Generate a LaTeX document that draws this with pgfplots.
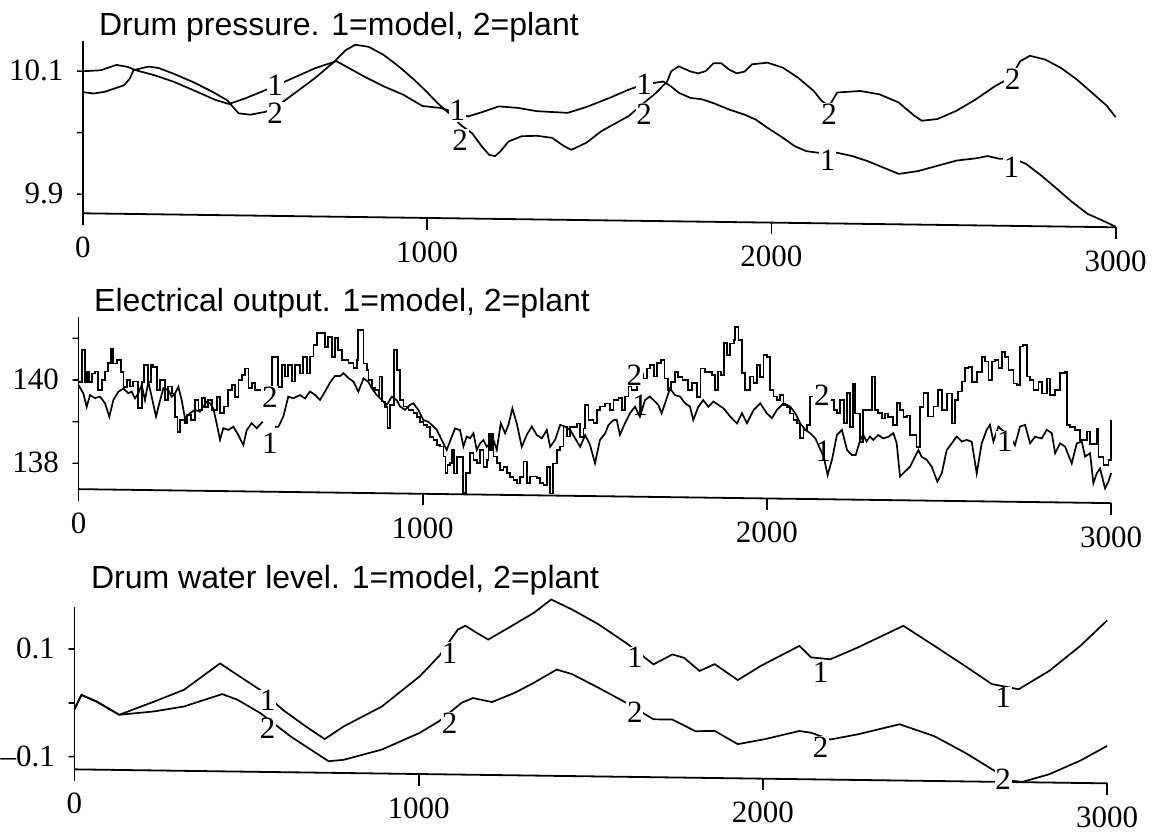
\documentclass[border=0pt]{standalone}
\usepackage{pgfplots}
\pgfplotsset{compat=1.18}
\usepackage{fontspec}
\setmainfont{Liberation Serif}
\newfontfamily\titlefont{Liberation Sans}

\pgfplotsset{
  trendaxis/.style={
    x={(0.1721pt,-0.00233pt)},
    xmin=0, xmax=3000,
    axis x line*=bottom, axis y line*=left,
    axis line style={line width=0.9pt, black},
    tick align=outside,
    xtick={0,1000,2000,3000},
    xticklabels={0,1000,2000,3000},
    xtick style={line width=0.9pt, black, /pgfplots/major tick length=5.8pt},
    ytick style={line width=0.7pt, black, /pgfplots/major tick length=3pt},
    ticklabel style={font=\fontsize{15.5}{18}\selectfont},
    xticklabel style={yshift=-4pt},
    yticklabel style={xshift=-2pt},
    clip=false,
    anchor=north west,
  },
}
\tikzset{
  curve/.style={line width=0.85pt, black},
  tickline/.style={line width=0.9pt, black},
  cl/.style={font=\fontsize{15.5}{18}\selectfont, fill=white, inner sep=0.4pt},
}
% tick marks below the time axis and left of the value axis
\newcommand\timeticks[1]{%
  \draw[tickline] (axis cs:0,#1) -- ++(0pt,-5.8pt);
  \draw[tickline] (axis cs:1000,#1) -- ++(0pt,-5.8pt);
  \draw[tickline] (axis cs:2000,#1) -- ++(0pt,-5.8pt);
  \draw[tickline] (axis cs:3000,#1) -- ++(0pt,-5.8pt);}
\newcommand\valuetick[1]{%
  \draw[tickline, line width=0.7pt] (axis cs:0,#1) -- ++(-3pt,0pt);}

\begin{document}
\begin{tikzpicture}
\path[use as bounding box] (0,0) rectangle (577pt,418pt);

% ---------------- Drum pressure ----------------
\node[anchor=base west, inner sep=0, font=\titlefont\fontsize{16}{19}\selectfont]
  at (49.35pt,400.25pt) {Drum pressure. 1=model, 2=plant};
\begin{axis}[trendaxis, at={(41.5pt,397.45pt)},
  y={(0pt,307.5pt)}, ymin=9.869, ymax=10.149,
  ytick={9.9,10,10.1}, yticklabels={9.9,,10.1}]
\addplot[curve] coordinates {
(0,10.100) (52,10.102) (97,10.111) (130,10.108) (152,10.103) (208,10.095)
(263,10.085) (319,10.072) (386,10.056) (424,10.050) (474,10.060) (541,10.076)
(608,10.093) (674,10.110) (736,10.122) (819,10.097) (874,10.082) (930,10.069)
(986,10.051) (1041,10.048) (1086,10.040) (1119,10.035) (1163,10.043) (1208,10.052)
(1263,10.050) (1319,10.045) (1408,10.043) (1463,10.053) (1529,10.068) (1585,10.082)
(1630,10.091) (1664,10.094) (1686,10.096) (1709,10.088) (1731,10.078) (1765,10.070)
(1798,10.068) (1832,10.062) (1877,10.052) (1922,10.044) (1955,10.036) (1989,10.023)
(2034,10.007) (2067,9.994) (2101,9.986) (2146,9.983) (2191,9.984) (2235,9.979)
(2280,9.971) (2325,9.961) (2370,9.951) (2426,9.956) (2482,9.965) (2538,9.974)
(2594,9.978) (2628,9.982) (2661,9.978) (2706,9.978) (2740,9.970) (2785,9.951)
(2830,9.930) (2874,9.909) (2919,9.890) (2953,9.882) (2992,9.872) (3000,9.870)
};
\addplot[curve] coordinates {
(0,10.066) (30,10.064) (63,10.067) (119,10.078) (136,10.089) (147,10.103)
(191,10.109) (219,10.107) (263,10.098) (319,10.085) (374,10.070) (419,10.056)
(436,10.045) (452,10.035) (486,10.033) (530,10.038) (563,10.047) (608,10.066)
(674,10.094) (730,10.121) (763,10.140) (791,10.149) (830,10.146) (874,10.133)
(919,10.114) (963,10.093) (997,10.075) (1030,10.056) (1069,10.037) (1097,10.021)
(1130,10.008) (1158,9.987) (1180,9.973) (1197,9.971) (1213,9.979) (1236,9.995)
(1274,10.004) (1319,10.005) (1363,10.002) (1397,9.989) (1419,9.983) (1463,9.995)
(1506,10.014) (1585,10.039) (1630,10.061) (1664,10.077) (1697,10.096) (1709,10.113)
(1731,10.121) (1765,10.113) (1787,10.110) (1809,10.114) (1832,10.127) (1854,10.127)
(1877,10.117) (1899,10.111) (1922,10.114) (1944,10.126) (1989,10.129) (2034,10.121)
(2078,10.105) (2123,10.084) (2146,10.068) (2168,10.060) (2191,10.082) (2258,10.085)
(2314,10.080) (2370,10.067) (2415,10.046) (2437,10.038) (2482,10.041) (2538,10.055)
(2594,10.074) (2650,10.096) (2695,10.110) (2723,10.137) (2751,10.146) (2796,10.140)
(2841,10.127) (2886,10.109) (2930,10.088) (2975,10.066) (3000,10.048)
};
\timeticks{9.869}
\valuetick{9.9}\valuetick{10}\valuetick{10.1}
\node[cl] at (axis cs:558,10.082) {1};
\node[cl] at (axis cs:558,10.036) {2};
\node[cl] at (axis cs:1096,9.996) {2};
\node[cl] at (axis cs:1088,10.044) {1};
\node[cl] at (axis cs:1630,10.091) {1};
\node[cl] at (axis cs:1630,10.043) {2};
\node[cl] at (axis cs:2168,10.046) {2};
\node[cl] at (axis cs:2163,9.972) {1};
\node[cl] at (axis cs:2697,9.964) {1};
\node[cl] at (axis cs:2701,10.107) {2};
\end{axis}

% ---------------- Electrical output ----------------
\node[anchor=base west, inner sep=0, font=\titlefont\fontsize{16}{19}\selectfont]
  at (46.9pt,262pt) {Electrical output. 1=model, 2=plant};
\begin{axis}[trendaxis, at={(39.25pt,259.65pt)},
  y={(0pt,20.825pt)}, ymin=137.38, ymax=141.52,
  ytick={138,139,140,141}, yticklabels={138,,140,}]
% plant: sampled signal drawn as steps
\addplot[curve, const plot] coordinates {
(0,139.96) (9.2,140.72) (18.9,139.96) (23.7,140.20) (31.5,139.96) (38.3,140.16)
(47.9,140.21) (57.6,139.77) (67.3,140.01) (77,140.21) (86.7,140.41) (93.5,140.77)
(101.2,140.41) (110.9,140.49) (122.5,140.21) (130.3,139.85) (140,140.02) (149.6,139.86)
(159.3,139.98) (173.8,139.34) (183.5,139.98) (190.3,140.38) (202.9,139.98) (209.7,140.38)
(217.4,140.34) (229,139.79) (236.8,140.03) (251.3,139.55) (261,139.87) (270.7,139.71)
(280.4,139.15) (287.2,138.79) (294.9,139.07) (309.4,138.99) (316.2,139.19) (325.9,139.08)
(338.5,139.56) (348.2,139.32) (357.8,139.60) (367.5,139.40) (377.2,139.56) (386.9,139.32)
(401.4,139.64) (411.1,139.25) (422.7,139.41) (435.3,139.81) (445,139.93) (454.7,139.65)
(464.4,140.05) (474.1,140.17) (483.8,140.33) (493.5,139.86) (503.1,139.98) (512.8,139.82)
(532.2,139.50) (561.2,140.62) (580.6,139.90) (590.3,140.43) (600,140.15) (609.6,140.43)
(619.3,140.03) (629,140.43) (643.5,140.23) (653.2,140.63) (662.9,140.23) (672.6,140.64)
(682.3,140.92) (692,141.20) (716.1,140.88) (725.8,141.12) (735.5,140.64) (745,141.10)
(754,140.80) (764.6,140.57) (784,140.49) (798.5,140.37) (808.2,140.57) (813,141.29)
(827.6,140.49) (837.3,140.33) (842.1,140.09) (851.8,139.90) (861.5,139.86) (871.2,139.70)
(874.1,140.18) (880.9,139.58) (890.6,139.46) (897.4,138.94) (905.2,139.50) (916.8,140.82)
(924.5,140.34) (934.2,139.62) (943.9,139.47) (958.4,139.39) (973,139.31) (982.7,139.23)
(992.4,139.11) (1002,139.03) (1011.7,138.99) (1021.4,138.75) (1031.1,138.68) (1040.8,138.56)
(1050.5,138.52) (1060,138.28) (1066,137.88) (1072,138.08) (1079.5,138.12) (1084.4,138.44)
(1091.2,137.88) (1098.9,138.28) (1116.3,137.41) (1126,137.89) (1137.7,138.37) (1147.4,138.21)
(1157.1,138.13) (1166.8,138.45) (1176.5,138.05) (1186.1,138.21) (1191,138.85) (1195.8,138.45)
(1200.7,138.85) (1205.5,138.30) (1215.2,138.14) (1224.9,137.98) (1234.6,138.05) (1244.3,137.90)
(1254,137.82) (1263.7,137.74) (1273.4,137.66) (1283,137.82) (1292.7,138.19) (1302.4,137.67)
(1312.1,137.83) (1331.5,137.79) (1341.2,137.67) (1350.9,137.63) (1360.6,138.07) (1370.3,137.43)
(1378,138.15) (1389.6,138.48) (1399.3,138.56) (1409,139.04) (1418.7,138.80) (1428.4,139.04)
(1447.7,139.12) (1457.4,138.80) (1467.1,139.00) (1472,139.57) (1481.6,139.21) (1496,139.13)
(1505.5,139.45) (1515,139.53) (1530,139.61) (1544,139.45) (1554,139.69) (1568.5,139.74)
(1578,139.46) (1588,139.78) (1597.5,140.02) (1607,139.94) (1622,140.34) (1641,140.22)
(1651,140.46) (1661,140.55) (1671,140.27) (1680.6,140.59) (1692,140.67) (1702.6,140.23)
(1712,139.95) (1722,140.15) (1732,140.39) (1742,140.27) (1755,140.20) (1770,139.96)
(1782,140.12) (1796,139.80) (1807,140.48) (1820,140.40) (1840,140.33) (1850,139.97)
(1857,140.41) (1867,140.33) (1874.5,141.09) (1884,140.81) (1893.7,141.09) (1903.4,141.17)
(1908,141.49) (1917.7,141.17) (1927.4,140.38) (1937,139.98) (1951.6,140.30) (1961.3,140.14)
(1971,140.58) (1980.7,140.30) (1990.4,140.82) (2000,140.78) (2009.8,139.99) (2019.5,139.83)
(2029,139.75) (2039,139.87) (2048.6,139.63) (2058,139.59) (2067.9,139.43) (2077.6,139.27)
(2087,139.19) (2097,138.84) (2106.7,139.04) (2116.4,139.16) (2126,139.84) (2135.8,139.96)
(2145.5,140.00) (2184.2,139.77) (2193.9,139.53) (2203.6,139.45) (2213.3,139.77) (2223,139.21)
(2232.7,139.93) (2242.4,139.13) (2250,140.15) (2256,139.45) (2270.5,138.77) (2280,139.54)
(2304.3,140.34) (2314,139.54) (2323.7,139.46) (2333.4,139.34) (2343,139.46) (2352.8,139.38)
(2367.3,139.19) (2377,139.71) (2386.7,139.55) (2396.4,139.38) (2406,139.42) (2415.8,138.95)
(2435,138.67) (2444.8,139.63) (2454.5,139.96) (2469,139.40) (2483.6,139.64) (2498,140.04)
(2507.8,139.56) (2522.3,139.96) (2536.8,139.24) (2546.5,139.81) (2556,140.01) (2566,140.25)
(2575.6,140.57) (2585.3,140.61) (2595,140.25) (2609.5,140.49) (2624,140.85) (2633.7,140.74)
(2643.4,140.30) (2653,140.74) (2662.8,140.78) (2672.5,140.58) (2682,140.98) (2692,140.86)
(2701.6,140.54) (2716,140.22) (2725.8,140.19) (2735.5,141.11) (2745,141.15) (2755,140.39)
(2764.6,140.31) (2774.3,140.07) (2788.8,140.27) (2798.5,139.99) (2813,140.35) (2822.7,139.96)
(2837,140.08) (2851.8,140.48) (2866.3,140.52) (2871,139.24) (2881,139.20) (2895,139.12)
(2910,138.89) (2929.4,139.09) (2939,138.80) (2958.6,139.17) (2963.5,138.49) (2977.9,138.29)
(2992.5,138.42) (3000,139.38)
};
% model
\addplot[curve, unbounded coords=jump] coordinates {
(0,139.88) (14,139.68) (23.7,139.36) (33.4,139.64) (47.9,139.57) (62.5,139.61)
(77,139.45) (89.6,139.13) (101.2,139.53) (115.7,139.73) (130.3,139.81) (144.8,139.70)
(154.5,139.74) (164.2,139.58) (173.8,139.70) (183.5,139.90) (193.2,139.54) (202.9,139.98)
(212.6,139.62) (225.2,139.15) (234.9,139.47) (246.5,139.83) (261,139.79) (270.7,139.63)
(280.4,139.71) (290.1,139.87) (299.8,139.55) (309.4,139.11) (324,139.24) (338.5,139.32)
(353,139.28) (362.7,139.40) (372.4,139.52) (382.1,139.48) (391.7,139.36) (401.4,139.00)
(411.1,138.61) (420.8,138.89) (435.3,138.85) (449.8,138.93) (464.4,138.73) (478.9,138.49)
(488.6,138.85) (503.1,139.02) (517.7,138.90) (535,139.06) (550,nan) (570.9,138.94)
(580.6,138.94) (595.1,139.19) (609.6,139.67) (624.2,139.63) (643.5,139.71) (658.1,139.63)
(672.6,139.80) (687.1,139.72) (701.6,139.60) (716.1,139.80) (730.7,140.02) (745,140.18)
(760,140.18) (770,140.25) (785,140.13) (799,140.05) (813,139.81) (828,140.13)
(842,140.05) (852,139.90) (866,139.74) (881,139.62) (895.5,139.50) (910,139.70)
(924.5,139.62) (934,139.47) (948.7,139.39) (963.2,139.51) (973,139.55) (987.5,139.39)
(1002,139.15) (1016.6,139.11) (1026,139.04) (1040.8,138.92) (1055.3,138.68) (1069.8,138.44)
(1084.4,138.76) (1094,138.96) (1108.6,138.92) (1118.3,138.53) (1128,138.77) (1137.7,138.73)
(1147.4,138.85) (1157,138.45) (1166.8,138.61) (1176.5,138.69) (1186,138.53) (1196,138.61)
(1205.5,138.70) (1215.2,138.46) (1226.8,139.10) (1239.4,138.86) (1249,139.06) (1260.6,139.46)
(1273.2,139.10) (1287.8,138.54) (1302.4,138.83) (1316.9,139.03) (1331.5,138.83) (1346,138.75)
(1360.6,138.95) (1370.3,138.55) (1384.8,138.72) (1399.3,139.08) (1413.8,139.04) (1428.4,138.96)
(1442.9,138.76) (1457.4,138.56) (1472,138.84) (1486,138.61) (1500.6,138.17) (1515,138.73)
(1530,138.89) (1539.5,139.09) (1554,139.21) (1563.6,139.22) (1573,138.86) (1587.7,139.14)
(1602,139.38) (1616.8,139.54) (1631,139.30) (1645.8,139.70) (1660,139.79) (1675,139.67)
(1684.6,139.59) (1694,139.39) (1704,139.63) (1718.5,139.99) (1733,139.83) (1747.6,139.80)
(1762,139.64) (1776.6,139.56) (1786,139.24) (1800.8,139.56) (1815,139.72) (1830,139.56)
(1844.6,139.69) (1859,139.61) (1874,139.53) (1893.7,139.33) (1913,139.17) (1927.6,139.42)
(1942,139.18) (1961.3,139.50) (1980.7,139.66) (2000,139.42) (2014.6,139.31) (2029,139.51)
(2048.6,139.67) (2068,139.59) (2082.6,139.43) (2097,139.19) (2111.7,139.04) (2126,138.96)
(2140.7,138.84) (2164.9,138.40) (2176.5,137.96) (2189,138.33) (2203.6,138.93) (2218,139.05)
(2232.7,138.57) (2247,138.45) (2258,138.45) (2270.5,138.80) (2280,138.94) (2289.7,138.78)
(2299.4,138.90) (2309,138.82) (2323.7,138.94) (2338,138.86) (2352.8,138.90) (2367.3,138.99)
(2377,138.75) (2386.7,137.95) (2401,138.07) (2415.8,138.19) (2430.3,138.43) (2440,138.59)
(2449.7,138.43) (2464,138.36) (2478.7,138.20) (2495,137.84) (2508,138.04) (2522.3,138.60)
(2536.8,138.76) (2551.4,138.93) (2566,138.81) (2580.4,138.85) (2595,138.81) (2609.5,138.05)
(2624,138.77) (2638.6,139.10) (2648,139.22) (2658,138.82) (2672.5,139.18) (2706,138.94)
(2720.7,138.74) (2735.5,139.19) (2750,139.23) (2764.6,138.79) (2779,138.95) (2798.5,138.91)
(2813,139.12) (2827.6,139.04) (2837.3,138.56) (2851.8,138.80) (2866.3,138.72) (2885.6,138.32)
(2900,138.80) (2914.6,138.85) (2924.3,138.49) (2938.8,138.57) (2948.5,137.85) (2958.2,138.09)
(2967.9,138.21) (2982.4,137.73) (2992,137.89) (3000,138.10)
};
\timeticks{137.38}
\valuetick{138}\valuetick{139}\valuetick{140}\valuetick{141}
\node[cl] at (axis cs:556,139.65) {2};
\node[cl] at (axis cs:556,138.54) {1};
\node[cl] at (axis cs:1615,140.30) {2};
\node[cl, fill=none] at (axis cs:1632,139.58) {1};
\node[cl] at (axis cs:2160,139.88) {2};
\node[cl, fill=none] at (axis cs:2164,138.52) {1};
\node[cl] at (axis cs:2691,138.82) {1};
\end{axis}

% ---------------- Drum water level ----------------
\node[anchor=base west, inner sep=0, font=\titlefont\fontsize{16}{19}\selectfont]
  at (45.35pt,123.75pt) {Drum water level. 1=model, 2=plant};
\begin{axis}[trendaxis, at={(37.25pt,114.65pt)},
  y={(0pt,269.2pt)}, ymin=-0.1235, ymax=0.1786,
  ytick={-0.1,0,0.1}, yticklabels={--0.1,,0.1}]
\addplot[curve] coordinates {
(0,-0.012) (20,0.015) (64,0.003) (130,-0.021) (230,0.004) (318,0.027) (423,0.077)
(473,0.056) (539,0.029) (606,-0.008) (672,-0.038) (727,-0.061) (782,-0.037) (893,0.001)
(1003,0.058) (1059,0.096) (1114,0.146) (1136,0.153) (1169,0.140) (1202,0.128)
(1268,0.153) (1335,0.179) (1385,0.204) (1445,0.186) (1520,0.160) (1603,0.125)
(1682,0.086) (1737,0.105) (1771,0.099) (1816,0.075) (1860,0.088) (1927,0.059)
(1994,0.086) (2050,0.105) (2106,0.124) (2140,0.103) (2196,0.100) (2274,0.122)
(2408,0.164) (2497,0.128) (2587,0.091) (2665,0.058) (2743,0.049) (2832,0.084)
(2922,0.131) (3000,0.179)
};
\addplot[curve] coordinates {
(0,-0.012) (20,0.015) (64,0.003) (130,-0.021) (230,-0.014) (318,-0.004) (429,0.020)
(473,0.010) (539,-0.014) (628,-0.057) (672,-0.075) (738,-0.102) (782,-0.099)
(893,-0.079) (1003,-0.047) (1059,-0.025) (1125,0.010) (1158,0.019) (1213,0.012)
(1280,0.030) (1335,0.049) (1401,0.074) (1445,0.066) (1520,0.042) (1603,0.014)
(1682,-0.016) (1737,-0.016) (1804,-0.037) (1860,-0.036) (1927,-0.060) (2006,-0.050)
(2106,-0.034) (2140,-0.037) (2196,-0.049) (2274,-0.039) (2397,-0.019) (2497,-0.040)
(2587,-0.070) (2665,-0.100) (2721,-0.121) (2754,-0.123) (2832,-0.108) (2922,-0.082)
(3000,-0.054)
};
\timeticks{-0.1235}
\valuetick{-0.1}\valuetick{0}\valuetick{0.1}
\node[cl] at (axis cs:561,0.009) {1};
\node[cl] at (axis cs:561,-0.043) {2};
\node[cl] at (axis cs:1090,0.102) {1};
\node[cl] at (axis cs:1090,-0.028) {2};
\node[cl] at (axis cs:1628,0.098) {1};
\node[cl] at (axis cs:1628,-0.004) {2};
\node[cl] at (axis cs:2168,0.076) {1};
\node[cl] at (axis cs:2168,-0.063) {2};
\node[cl] at (axis cs:2698,0.033) {1};
\node[cl] at (axis cs:2698,-0.118) {2};
\end{axis}
\end{tikzpicture}
\end{document}
